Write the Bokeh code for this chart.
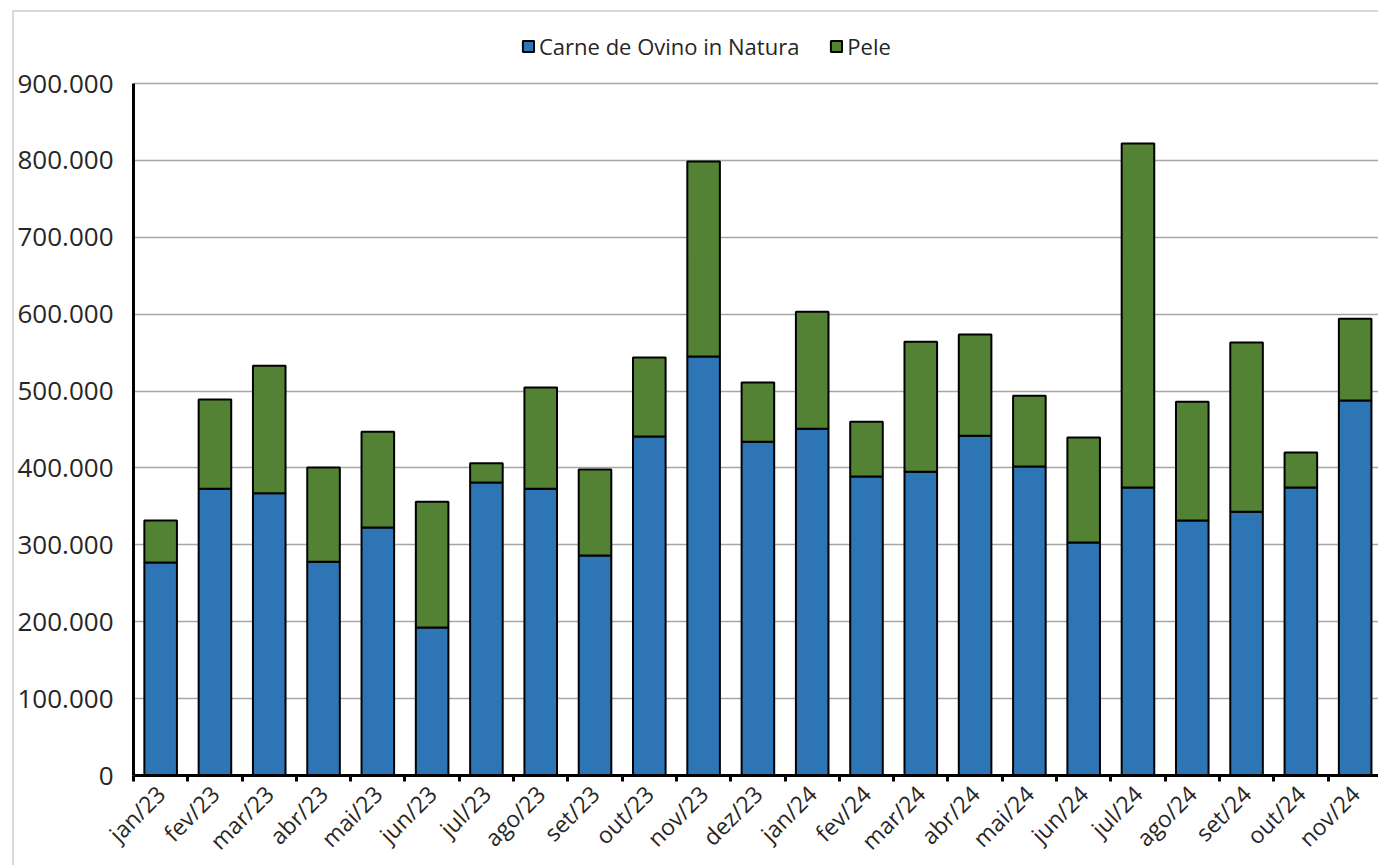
import math
from bokeh.plotting import figure
from bokeh.models import ColumnDataSource, Range1d, FixedTicker, Legend, LinearAxis, Grid
from bokeh.embed import file_html
from bokeh.resources import INLINE

months = ["jan/23", "fev/23", "mar/23", "abr/23", "mai/23", "jun/23", "jul/23", "ago/23",
          "set/23", "out/23", "nov/23", "dez/23", "jan/24", "fev/24", "mar/24", "abr/24",
          "mai/24", "jun/24", "jul/24", "ago/24", "set/24", "out/24", "nov/24"]
carne = [277000, 373000, 367000, 278000, 322500, 192500, 381000, 373000,
         286000, 441000, 545000, 434000, 451000, 389000, 395000, 442000,
         402000, 303000, 374500, 331600, 343000, 374500, 487700]
total = [331600, 489000, 533000, 400600, 447000, 356000, 406000, 504600,
         398000, 543600, 798600, 511000, 603000, 460000, 564000, 573500,
         494000, 439600, 822000, 486000, 563000, 420000, 594000]
pele = [t - c for t, c in zip(total, carne)]
y_ticks = [0, 100000, 200000, 300000, 400000, 500000, 600000, 700000, 800000, 900000]
y_labels = ["0", "100.000", "200.000", "300.000", "400.000", "500.000", "600.000", "700.000", "800.000", "900.000"]

FONT = "Open Sans"
TXT = "#262626"

x = [i + 0.5 for i in range(len(months))]
src = ColumnDataSource(dict(x=x, carne=carne, pele=pele, month=months))

FRAME_H = 755
y_top = 900000 * FRAME_H / 692

p = figure(output_backend="svg", toolbar_location=None,
           width=1364, height=843,
           frame_width=1245, frame_height=FRAME_H,
           min_border_left=119, min_border_top=8, min_border_right=0, min_border_bottom=80,
           x_range=Range1d(0, 22.93), y_range=Range1d(0, y_top),
           x_axis_type=None, y_axis_type=None)
p.margin = (10, 0, 0, 12)
p.styles = {"border": "2px solid #d9d9d9"}
p.outline_line_color = None
p.background_fill_color = "white"

g = Grid(dimension=1, ticker=FixedTicker(ticks=y_ticks[1:]))
g.grid_line_color = "#a6a6a6"
g.grid_line_width = 1.5
p.add_layout(g)

rs = p.vbar_stack(["carne", "pele"], x="x", width=0.6, source=src,
                  color=["#2e75b6", "#548235"], line_color="black", line_width=2)

# Y axis
ya = LinearAxis(ticker=FixedTicker(ticks=y_ticks), bounds=(0, 900000),
                major_label_overrides={t: l for t, l in zip(y_ticks, y_labels)})
ya.axis_line_width = 3
ya.axis_line_color = "black"
ya.major_tick_out = 0
ya.major_tick_in = 0
ya.minor_tick_out = 0
ya.minor_tick_in = 0
ya.major_label_text_font = FONT
ya.major_label_text_font_size = "26px"
ya.major_label_text_color = TXT
ya.major_label_standoff = 20
p.add_layout(ya, "left")

# X axis
xa = LinearAxis(ticker=FixedTicker(ticks=x, minor_ticks=list(range(len(months) + 1))),
                major_label_overrides={xi: m for xi, m in zip(x, months)})
xa.axis_line_width = 3
xa.axis_line_color = "black"
xa.major_tick_out = 0
xa.major_tick_in = 0
xa.minor_tick_out = 6
xa.minor_tick_in = 0
xa.minor_tick_line_width = 3
xa.minor_tick_line_color = "black"
xa.major_label_orientation = math.pi / 4
xa.major_label_text_font = FONT
xa.major_label_text_font_size = "23px"
xa.major_label_text_color = TXT
xa.major_label_standoff = 8
p.add_layout(xa, "below")

legend = Legend(items=[("Carne de Ovino in Natura", [rs[0]]), ("Pele", [rs[1]])],
                orientation="horizontal", location=(388, 714))
legend.label_text_font = FONT
legend.label_text_font_size = "22px"
legend.label_text_color = TXT
legend.glyph_width = 14
legend.glyph_height = 14
legend.spacing = 30
legend.label_standoff = 4
legend.border_line_color = None
legend.background_fill_alpha = 0
legend.padding = 4
legend.margin = 0
p.add_layout(legend, "center")

open("out.html", "w").write(file_html(p, INLINE))
